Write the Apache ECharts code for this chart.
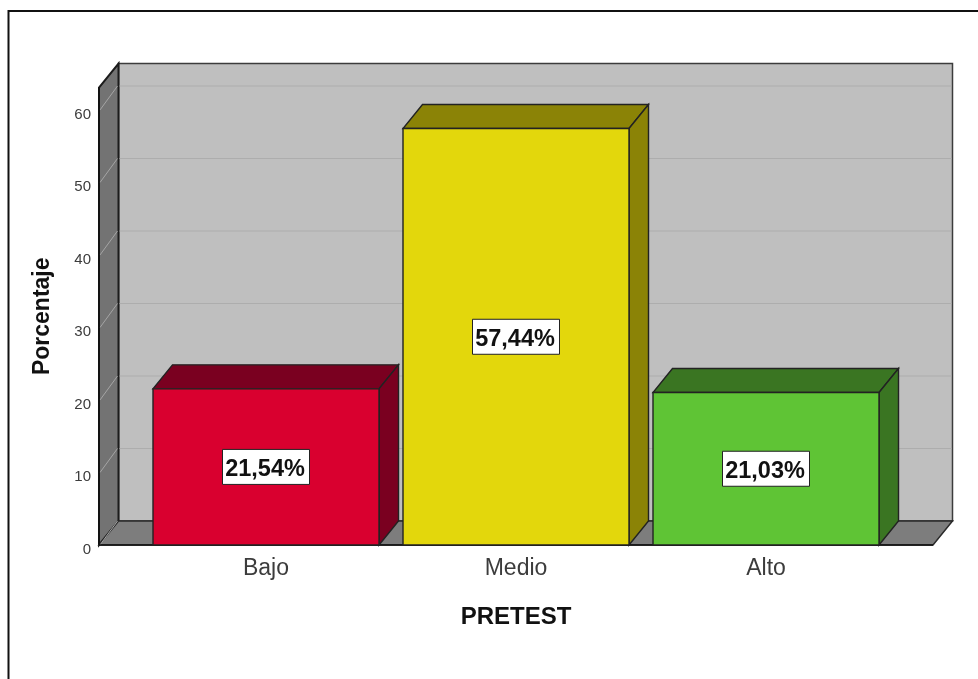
<!DOCTYPE html>
<html>
<head>
<meta charset="utf-8">
<style>html,body{margin:0;padding:0;background:#fff}#c{width:978px;height:679px}</style>
<script src="https://cdn.jsdelivr.net/npm/echarts@6/dist/echarts.min.js"></script>
</head>
<body>
<div id="c"></div>
<script>
const categories = ['Bajo', 'Medio', 'Alto'];
const percentages = [21.54, 57.44, 21.03];
const faceColors = ['#d9002f', '#e3d70c', '#5fc435'];
const sideColors = ['#7a0020', '#8b8306', '#3a7522'];
const gridTicks = [0, 10, 20, 30, 40, 50, 60];
const yTop = 63.1;

const DX = 19.5, DY = -24, EDGE = '#222', FONT = '"Liberation Sans", Arial, sans-serif';

function poly(points, fill, stroke, lw, z2) {
  return { type: 'polygon', shape: { points }, z2: z2 || 0,
    style: { fill, stroke: stroke || null, lineWidth: lw === undefined ? 1 : lw } };
}
function seg(a, b, stroke, lw) {
  return { type: 'line', shape: { x1: a[0], y1: a[1], x2: b[0], y2: b[1] },
    style: { stroke, lineWidth: lw, fill: null } };
}
function renderWalls(params, api) {
  const band = api.size([1, 0])[0];
  const L = api.coord([0, 0])[0] - 0.668 * band;
  const R = api.coord([categories.length - 1, 0])[0] + 0.668 * band;
  const y0 = api.coord([0, 0])[1];
  const yT = api.coord([0, yTop])[1];
  const kids = [];
  kids.push(poly([[L + DX, yT + DY], [R + DX, yT + DY], [R + DX, y0 + DY], [L + DX, y0 + DY]], '#bfbfbf', '#3c3c3c', 1.5));
  kids.push(poly([[L, y0], [L + DX, y0 + DY], [L + DX, yT + DY], [L, yT]], '#737373', '#1c1c1c', 2));
  kids.push(poly([[L, y0], [R, y0], [R + DX, y0 + DY], [L + DX, y0 + DY]], '#7d7d7d', '#2a2a2a', 1.5));
  gridTicks.forEach(function (t) {
    const y = api.coord([0, t])[1];
    if (t > 0) kids.push(seg([L + DX + 1, y + DY], [R + DX - 1, y + DY], '#adadad', 1.2));
    kids.push(seg([L + 1, y], [L + DX - 1, y + DY], '#a5a5a5', 1));
  });
  kids.push(seg([L, y0], [R, y0], '#111', 1.6));
  kids.push(seg([L, y0], [L, yT], '#111', 1.6));
  return { type: 'group', children: kids };
}
function renderBars(params, api) {
  const i = api.value(0), v = api.value(1);
  const band = api.size([1, 0])[0];
  const cx = api.coord([i, 0])[0], y0 = api.coord([i, 0])[1], y1 = api.coord([i, v])[1];
  const hw = band * 0.452;
  const a = cx - hw, b = cx + hw;
  const txt = v.toFixed(2).replace('.', ',') + '%';
  const my = api.coord([i, v / 2])[1];
  return { type: 'group', children: [
    poly([[a, y1], [b, y1], [b + DX, y1 + DY], [a + DX, y1 + DY]], sideColors[i], EDGE, 1.4),
    poly([[b, y0], [b + DX, y0 + DY], [b + DX, y1 + DY], [b, y1]], sideColors[i], EDGE, 1.4),
    poly([[a, y0], [b, y0], [b, y1], [a, y1]], faceColors[i], EDGE, 1.4),
    { type: 'rect', shape: { x: cx - 43.5, y: my - 17.5, width: 87, height: 35 }, z2: 5,
      style: { fill: '#fff', stroke: '#222', lineWidth: 1 } },
    { type: 'text', x: cx - 1, y: my + 2.5, z2: 6,
      style: { text: txt, fill: '#111', font: 'bold 23.5px ' + FONT, textAlign: 'center', textVerticalAlign: 'middle' } }
  ] };
}
const chart = echarts.init(document.getElementById('c'));
chart.setOption({
  animation: false,
  backgroundColor: '#fff',
  grid: { left: 141, width: 750, top: 87.5, height: 457.5 },
  graphic: [
    { type: 'polyline', silent: true, shape: { points: [[8.5, 679], [8.5, 11], [978, 11]] },
      style: { stroke: '#111', lineWidth: 2, fill: null } }
  ],
  xAxis: {
    type: 'category', data: categories,
    name: 'PRETEST', nameLocation: 'middle', nameGap: 60,
    nameTextStyle: { fontFamily: FONT, fontWeight: 'bold', fontSize: 24, color: '#111' },
    axisLine: { show: false }, axisTick: { show: false }, splitLine: { show: false },
    axisLabel: { fontFamily: FONT, fontSize: 23, color: '#3c3c3c', margin: 12 }
  },
  yAxis: {
    type: 'value', min: 0, max: yTop, interval: 10, offset: 42,
    name: 'Porcentaje', nameLocation: 'middle', nameGap: 45,
    nameTextStyle: { fontFamily: FONT, fontWeight: 'bold', fontSize: 23, color: '#111' },
    axisLine: { show: false }, axisTick: { show: false }, splitLine: { show: false },
    axisLabel: { fontFamily: FONT, fontSize: 15, color: '#3c3c3c', margin: 8, showMaxLabel: false, lineHeight: 15, verticalAlign: 'top', padding: [-3, 0, 0, 0] }
  },
  series: [
    { type: 'custom', renderItem: renderWalls, data: [[0, 0]], encode: { x: 0, y: 1 }, silent: true, z: 1 },
    { type: 'custom', renderItem: renderBars, data: categories.map(function (c, i) { return [i, percentages[i]]; }),
      encode: { x: 0, y: 1 }, z: 2 }
  ]
});
</script>
</body>
</html>
